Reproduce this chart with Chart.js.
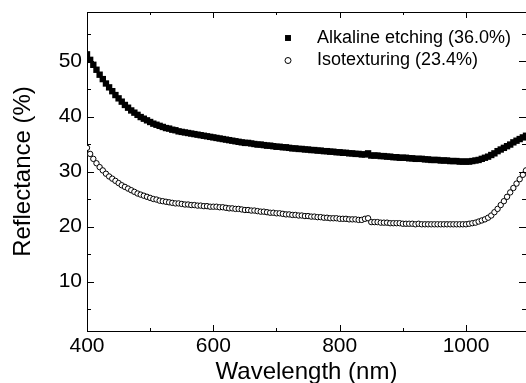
<!DOCTYPE html>
<html>
<head>
<meta charset="utf-8">
<script src="https://cdn.jsdelivr.net/npm/chart.js@4"></script>
<style>
  html, body { margin: 0; padding: 0; background: #fff; overflow: hidden; }
  #wrap { width: 526px; height: 383px; overflow: hidden; }
</style>
</head>
<body>
<!-- canvas is a little wider than the window: the right frame edge falls outside, as in the figure -->
<div id="wrap"><canvas id="reflChart" width="531" height="383"></canvas></div>
<script>
const wavelengths = [
  400, 405, 410, 415, 420, 425, 430, 435, 440, 445, 450, 455, 460, 465, 470, 475, 480, 485, 490, 495,
  500, 505, 510, 515, 520, 525, 530, 535, 540, 545, 550, 555, 560, 565, 570, 575, 580, 585, 590, 595,
  600, 605, 610, 615, 620, 625, 630, 635, 640, 645, 650, 655, 660, 665, 670, 675, 680, 685, 690, 695,
  700, 705, 710, 715, 720, 725, 730, 735, 740, 745, 750, 755, 760, 765, 770, 775, 780, 785, 790, 795,
  800, 805, 810, 815, 820, 825, 830, 835, 840, 845, 850, 855, 860, 865, 870, 875, 880, 885, 890, 895,
  900, 905, 910, 915, 920, 925, 930, 935, 940, 945, 950, 955, 960, 965, 970, 975, 980, 985, 990, 995,
  1000, 1005, 1010, 1015, 1020, 1025, 1030, 1035, 1040, 1045, 1050, 1055, 1060, 1065, 1070, 1075, 1080, 1085, 1090, 1095
];

const alkaline = [
  51.3, 50.3, 49.4, 48.5, 47.6, 46.8, 46.0, 45.3, 44.6, 43.9, 43.3, 42.7, 42.1, 41.6, 41.1, 40.7, 40.3, 39.9, 39.6, 39.3,
  39.0, 38.7, 38.5, 38.3, 38.1, 37.9, 37.8, 37.6, 37.5, 37.3, 37.2, 37.1, 37.0, 36.9, 36.8, 36.7, 36.6, 36.5, 36.4, 36.3,
  36.2, 36.1, 36.0, 35.9, 35.8, 35.7, 35.6, 35.5, 35.4, 35.3, 35.2, 35.2, 35.1, 35.0, 34.9, 34.9, 34.8, 34.7, 34.7, 34.6,
  34.5, 34.5, 34.4, 34.4, 34.3, 34.2, 34.2, 34.1, 34.1, 34.0, 34.0, 33.9, 33.9, 33.8, 33.8, 33.7, 33.7, 33.6, 33.6, 33.5,
  33.5, 33.4, 33.4, 33.3, 33.3, 33.2, 33.2, 33.1, 33.1, 33.3, 32.9, 32.9, 32.9, 32.8, 32.8, 32.7, 32.7, 32.6, 32.6, 32.5,
  32.5, 32.5, 32.4, 32.4, 32.3, 32.3, 32.3, 32.2, 32.2, 32.1, 32.1, 32.1, 32.0, 32.0, 32.0, 31.9, 31.9, 31.9, 31.8, 31.8,
  31.8, 31.8, 31.9, 32.0, 32.1, 32.3, 32.5, 32.7, 33.0, 33.3, 33.7, 34.0, 34.3, 34.6, 34.9, 35.3, 35.6, 35.9, 36.2, 36.5
];

const isotexturing = [
  34.3, 33.2, 32.3, 31.5, 30.8, 30.2, 29.6, 29.1, 28.7, 28.3, 27.9, 27.5, 27.2, 26.9, 26.6, 26.3, 26.0, 25.8, 25.6, 25.4,
  25.2, 25.0, 24.9, 24.7, 24.6, 24.5, 24.4, 24.3, 24.2, 24.2, 24.1, 24.0, 24.0, 23.9, 23.9, 23.8, 23.8, 23.7, 23.7, 23.6,
  23.6, 23.6, 23.5, 23.5, 23.4, 23.3, 23.3, 23.2, 23.2, 23.1, 23.0, 23.0, 22.9, 22.9, 22.8, 22.7, 22.7, 22.6, 22.5, 22.5,
  22.4, 22.4, 22.3, 22.2, 22.2, 22.1, 22.1, 22.0, 22.0, 21.9, 21.9, 21.8, 21.8, 21.7, 21.7, 21.6, 21.6, 21.5, 21.5, 21.5,
  21.4, 21.4, 21.4, 21.3, 21.3, 21.3, 21.2, 21.2, 21.4, 21.5, 20.8, 20.8, 20.8, 20.7, 20.7, 20.7, 20.6, 20.6, 20.6, 20.6,
  20.5, 20.5, 20.5, 20.5, 20.4, 20.5, 20.4, 20.4, 20.4, 20.4, 20.4, 20.4, 20.4, 20.4, 20.4, 20.4, 20.4, 20.4, 20.4, 20.4,
  20.4, 20.5, 20.6, 20.7, 20.9, 21.1, 21.3, 21.6, 22.0, 22.6, 23.2, 23.9, 24.6, 25.4, 26.2, 27.0, 27.8, 28.6, 29.4, 30.2
];

const seriesLabels = ['Alkaline etching (36.0%)', 'Isotexturing (23.4%)'];
const xTitle = 'Wavelength (nm)';
const yTitle = 'Reflectance (%)';

// tick positions (major ones carry a label)
const xTicks = [400, 500, 600, 700, 800, 900, 1000];
const xLabelled = [400, 600, 800, 1000];
const yTicks = [5, 10, 15, 20, 25, 30, 35, 40, 45, 50, 55];
const yLabelled = [10, 20, 30, 40, 50];

const FONT = "'Liberation Sans', Arial, sans-serif";

const toPoints = vals => wavelengths.map((w, i) => ({ x: w, y: vals[i] }));

// no extra room for overhanging tick labels
const noPad = s => {
  s.paddingLeft = 0; s.paddingRight = 0; s.paddingTop = 0; s.paddingBottom = 0;
};

// inward ticks on all four sides, top frame line, and the legend
const frameAndLegend = {
  id: 'frameAndLegend',
  afterDraw(chart) {
    const { ctx, chartArea: a, scales: { x, y } } = chart;
    ctx.save();
    ctx.strokeStyle = '#000';
    ctx.lineWidth = 1;
    ctx.beginPath();
    ctx.moveTo(a.left, a.top + 0.5);
    ctx.lineTo(a.right, a.top + 0.5);
    x.ticks.forEach(t => {
      const px = Math.round(x.getPixelForValue(t.value)) + 0.5;
      const len = xLabelled.includes(t.value) ? 6 : 3;
      ctx.moveTo(px, a.bottom); ctx.lineTo(px, a.bottom - len);
      ctx.moveTo(px, a.top); ctx.lineTo(px, a.top + len);
    });
    y.ticks.forEach(t => {
      const py = Math.round(y.getPixelForValue(t.value)) + 0.5;
      const len = yLabelled.includes(t.value) ? 7 : 4;
      ctx.moveTo(a.left, py); ctx.lineTo(a.left + len, py);
      ctx.moveTo(a.right, py); ctx.lineTo(a.right - len, py);
    });
    ctx.stroke();

    // legend
    ctx.font = '18px ' + FONT;
    ctx.textBaseline = 'middle';
    ctx.textAlign = 'left';
    const rows = [38, 60.5];
    chart.data.datasets.forEach((ds, i) => {
      ctx.fillStyle = ds.backgroundColor;
      ctx.strokeStyle = '#000';
      ctx.lineWidth = 1;
      Chart.helpers.drawPoint(ctx, {
        pointStyle: ds.pointStyle,
        radius: ds.pointStyle === 'rect' ? 4.2 : 3,
        borderWidth: ds.pointBorderWidth
      }, 288, rows[i]);
      ctx.fillStyle = '#000';
      ctx.fillText(ds.label, 317, rows[i]);
    });
    ctx.restore();
  }
};

const ctx = document.getElementById('reflChart');

new Chart(ctx, {
  type: 'scatter',
  data: {
    datasets: [
      {
        label: seriesLabels[0],
        data: toPoints(alkaline),
        pointStyle: 'rect',
        pointRadius: 4.5,
        pointBorderWidth: 0,
        backgroundColor: '#000',
        borderColor: '#000'
      },
      {
        label: seriesLabels[1],
        data: toPoints(isotexturing),
        pointStyle: 'circle',
        pointRadius: 2.7,
        pointBorderWidth: 1,
        backgroundColor: '#fff',
        borderColor: '#000'
      }
    ]
  },
  options: {
    responsive: false,
    animation: false,
    events: [],
    layout: { padding: { top: 12, right: 0, left: 0, bottom: 0 } },
    plugins: { legend: { display: false }, tooltip: { enabled: false } },
    scales: {
      x: {
        type: 'linear',
        min: 400,
        max: 1095,
        afterFit: s => { s.height = 52; noPad(s); },
        afterBuildTicks: s => { s.ticks = xTicks.map(v => ({ value: v })); },
        grid: { drawOnChartArea: false, drawTicks: false },
        border: { color: '#000', width: 1 },
        ticks: {
          autoSkip: false,
          maxRotation: 0,
          padding: 3,
          color: '#000',
          font: { family: FONT, size: 21 },
          callback: v => (xLabelled.includes(v) ? String(v) : '')
        },
        title: {
          display: true,
          text: xTitle,
          color: '#000',
          font: { family: FONT, size: 24, lineHeight: 1 },
          padding: { top: 0, bottom: -1 }
        }
      },
      y: {
        min: 1,
        max: 59,
        afterFit: s => { s.width = 87; noPad(s); },
        afterBuildTicks: s => { s.ticks = yTicks.map(v => ({ value: v })); },
        grid: { drawOnChartArea: false, drawTicks: false },
        border: { color: '#000', width: 1 },
        ticks: {
          autoSkip: false,
          padding: 5,
          color: '#000',
          font: { family: FONT, size: 21 },
          callback: v => (yLabelled.includes(v) ? String(v) : '')
        },
        title: {
          display: true,
          text: yTitle,
          color: '#000',
          font: { family: FONT, size: 24, lineHeight: 1 },
          padding: { top: 11, bottom: 0 }
        }
      }
    }
  },
  plugins: [frameAndLegend]
});
</script>
</body>
</html>
